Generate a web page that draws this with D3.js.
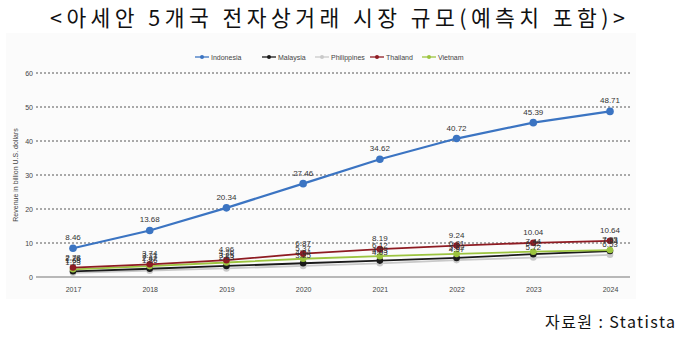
<!DOCTYPE html>
<html><head><meta charset="utf-8">
<script src="https://cdn.jsdelivr.net/npm/d3@7"></script>
<style>body{margin:0;background:#fff}svg{display:block}</style>
</head><body>
<svg id="c" width="680" height="340"></svg>
<script>
const years = ["2017","2018","2019","2020","2021","2022","2023","2024"];
const indonesia   = [8.46, 13.68, 20.34, 27.46, 34.62, 40.72, 45.39, 48.71];
const malaysia    = [1.68, 2.42, 3.25, 4.04, 4.83, 5.62, 6.72, 7.63];
const philippines = [1.23, 1.86, 2.53, 3.25, 4.03, 4.97, 5.72, 6.53];
const thailand    = [2.78, 3.74, 4.96, 6.87, 8.19, 9.24, 10.04, 10.64];
const vietnam     = [2.26, 3.21, 4.26, 5.37, 6.12, 6.81, 7.44, 7.93];
const yTicks = [0, 10, 20, 30, 40, 50, 60];
const seriesNames = ["Indonesia", "Malaysia", "Philippines", "Thailand", "Vietnam"];
const seriesColors = ["#3b74c2", "#1a1a1a", "#c9c9c9", "#8e1b22", "#9cc43f"];
const seriesValues = [indonesia, malaysia, philippines, thailand, vietnam];

const svg = d3.select("#c");
svg.append("rect").attr("x",6).attr("y",33).attr("width",630).attr("height",266).attr("fill","#fbfbfb");

svg.append("text").attr("x",50).attr("y",26)
  .attr("textLength",575).attr("lengthAdjust","spacing")
  .attr("font-family","'Noto Sans CJK KR', sans-serif").attr("font-size",21.5).attr("fill","#111")
  .text("<아세안 5개국 전자상거래 시장 규모(예측치 포함)>");

const x = d3.scalePoint().domain(years).range([73, 610]);
const y = d3.scaleLinear().domain([0, 60]).range([277, 73]);

// gridlines
svg.append("g").selectAll("line").data(yTicks.filter(d=>d>0)).join("line")
  .attr("x1",36).attr("x2",630).attr("y1",d=>y(d)).attr("y2",d=>y(d))
  .attr("stroke","#444").attr("stroke-width",0.9).attr("stroke-dasharray","2,2");
svg.append("line").attr("x1",36).attr("x2",630).attr("y1",y(0)).attr("y2",y(0))
  .attr("stroke","#777").attr("stroke-width",1.2);

// y axis labels
const ya = svg.append("g").attr("transform","translate(33,0)")
  .call(d3.axisLeft(y).tickValues(yTicks).tickSize(0).tickPadding(0));
ya.select(".domain").remove();
ya.selectAll("text").attr("font-family","Arial, 'Liberation Sans', sans-serif").attr("font-size",7).attr("fill","#444");

// x axis labels
const xa = svg.append("g").attr("transform",`translate(0,${y(0)+10})`)
  .call(d3.axisBottom(x).tickSize(0).tickPadding(0));
xa.select(".domain").remove();
xa.selectAll("text").attr("font-family","Arial, 'Liberation Sans', sans-serif").attr("font-size",7).attr("fill","#444");

svg.append("text").attr("transform","translate(18,175) rotate(-90)").attr("text-anchor","middle")
  .attr("font-family","Arial, 'Liberation Sans', sans-serif").attr("font-size",7).attr("fill","#444")
  .text("Revenue in billion U.S. dollars");

const line = d3.line().x((d,i)=>x(years[i])).y(d=>y(d));
const order = [2,1,4,3,0];
order.forEach(k => {
  const vals = seriesValues[k], col = seriesColors[k];
  svg.append("path").datum(vals).attr("d",line).attr("fill","none")
    .attr("stroke",col).attr("stroke-width", k===0?2.2:1.8);
  svg.append("g").selectAll("circle").data(vals).join("circle")
    .attr("cx",(d,i)=>x(years[i])).attr("cy",d=>y(d)).attr("r",k===0?3.8:3.3).attr("fill",col);
});
order.forEach(k => {
  const vals = seriesValues[k];
  svg.append("g").selectAll("text").data(vals).join("text")
    .attr("x",(d,i)=>x(years[i])).attr("y",d=>y(d)-8).attr("text-anchor","middle")
    .attr("font-family","Arial, 'Liberation Sans', sans-serif").attr("font-size",8).attr("fill","#333")
    .text(d=>d.toFixed(2));
});

// legend
const lg = svg.append("g").attr("transform","translate(0,57)");
const lgX = [195, 262, 315, 370, 422];
seriesNames.forEach((n,i) => {
  const g = lg.append("g").attr("transform",`translate(${lgX[i]},0)`);
  g.append("line").attr("x1",0).attr("x2",14).attr("y1",0).attr("y2",0).attr("stroke",seriesColors[i]).attr("stroke-width",1.3);
  g.append("circle").attr("cx",7).attr("cy",0).attr("r",2).attr("fill",seriesColors[i]);
  g.append("text").attr("x",16).attr("y",2.5).attr("font-family","Arial, 'Liberation Sans', sans-serif")
    .attr("font-size",7).attr("fill","#444").text(n);
});

svg.append("text").attr("x",545).attr("y",328)
  .attr("textLength",130).attr("lengthAdjust","spacing")
  .attr("font-family","'Noto Sans CJK KR', sans-serif").attr("font-size",16).attr("fill","#111")
  .text("자료원 : Statista");
</script>
</body></html>
